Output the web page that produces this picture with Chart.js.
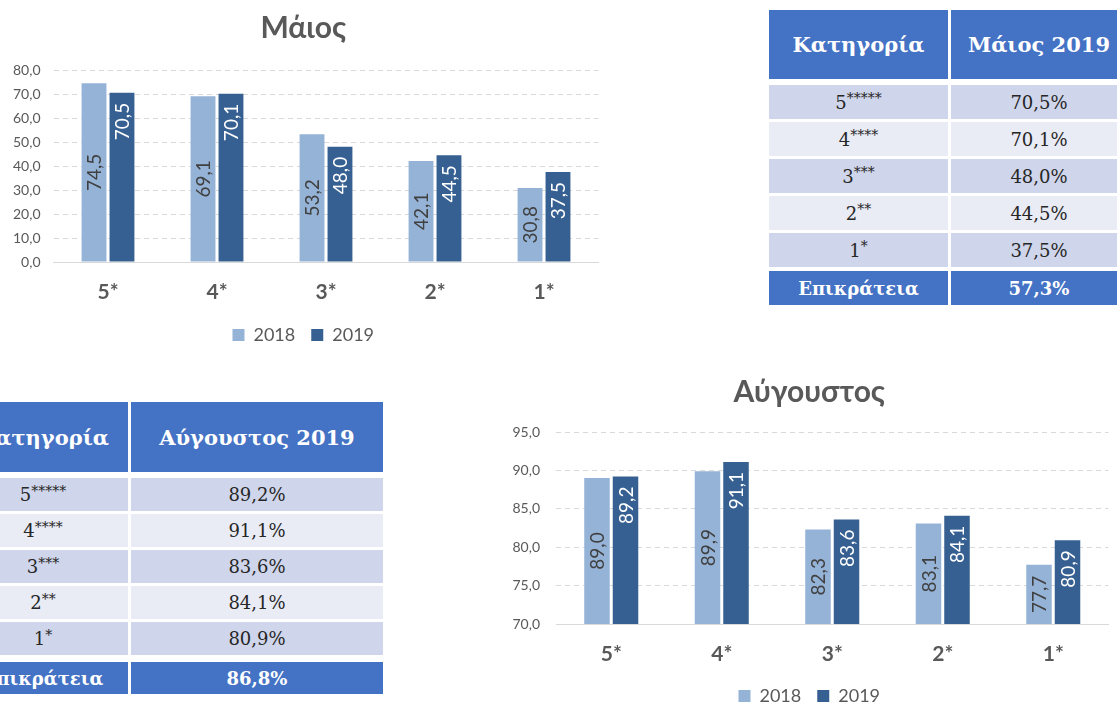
<!DOCTYPE html>
<html><head><meta charset="utf-8">
<script src="https://cdn.jsdelivr.net/npm/chart.js@4.4.0/dist/chart.umd.min.js"></script>
<style>
html,body{margin:0;padding:0;width:1117px;height:704px;overflow:hidden;background:#fff;}
canvas{position:absolute;}
#c1{left:0;top:0;}
#c2{left:490px;top:370px;}
.tbl{position:absolute;font-family:"DejaVu Serif",serif;color:#262626;}
.row{display:flex;gap:3px;}
.cell{display:flex;align-items:center;justify-content:center;box-sizing:border-box;}
.hd .cell{background:#4472C4;color:#fff;font-weight:bold;font-size:21px;}
.tot .cell{background:#4472C4;color:#fff;font-weight:bold;font-size:18px;}
.dr .cell{font-size:18px;}
.dr.odd .cell{background:#CFD5EA;}
.dr.even .cell{background:#E9EBF5;}
sup{font-size:14px;position:relative;top:-4px;vertical-align:top;line-height:1;}
#t1{left:769px;top:10px;}
#t2{left:-42px;top:402px;}
</style></head>
<body>
<canvas id="c1" width="605" height="354"></canvas>
<canvas id="c2" width="627" height="345"></canvas>
<div class="tbl" id="t1"></div>
<div class="tbl" id="t2"></div>
<script>
// ---- data ----
const categories = ['5*', '4*', '3*', '2*', '1*'];
const seriesYears = ['2018', '2019'];
const may2018 = [74.5, 69.1, 53.2, 42.1, 30.8];
const may2019 = [70.5, 70.1, 48.0, 44.5, 37.5];
const aug2018 = [89.0, 89.9, 82.3, 83.1, 77.7];
const aug2019 = [89.2, 91.1, 83.6, 84.1, 80.9];
const tableStars = [5, 4, 3, 2, 1];
const mayTableValues = [70.5, 70.1, 48.0, 44.5, 37.5];
const mayTotal = 57.3;
const augTableValues = [89.2, 91.1, 83.6, 84.1, 80.9];
const augTotal = 86.8;

const fmt = v => v.toFixed(1).replace('.', ',');
const LIGHT = '#95B3D7', DARK = '#376092', GREY = '#595959';

Chart.defaults.font.family = 'Lato';
Chart.defaults.color = GREY;

const barLabels = {
  id: 'barLabels',
  afterDatasetsDraw(chart) {
    const ctx = chart.ctx;
    const bottom = chart.chartArea.bottom;
    chart.data.datasets.forEach((ds, di) => {
      const meta = chart.getDatasetMeta(di);
      meta.data.forEach((bar, i) => {
        ctx.save();
        const base = Math.min(bar.base, bottom);
        const y = di === 0 ? (bar.y + base) / 2 : bar.y + 10;
        ctx.translate(bar.x, y);
        ctx.rotate(-Math.PI / 2);
        ctx.font = '19px Lato';
        ctx.fillStyle = di === 0 ? '#404040' : '#ffffff';
        ctx.textAlign = di === 0 ? 'center' : 'right';
        ctx.textBaseline = 'middle';
        ctx.fillText(fmt(ds.data[i]), 0, 1);
        ctx.restore();
      });
    });
  }
};

function makeChart(id, title, d18, d19, min, max, step, cfg) {
  return new Chart(document.getElementById(id), {
    type: 'bar',
    data: {
      labels: categories,
      datasets: [
        {label: seriesYears[0], data: d18, backgroundColor: LIGHT, categoryPercentage: cfg.cat, barPercentage: cfg.bar},
        {label: seriesYears[1], data: d19, backgroundColor: DARK, categoryPercentage: cfg.cat, barPercentage: cfg.bar}
      ]
    },
    options: {
      responsive: false,
      animation: false,
      devicePixelRatio: 1,
      layout: {padding: {left: cfg.padL, right: cfg.padR, top: 0, bottom: 0}},
      plugins: {
        title: {display: true, text: title, color: GREY, font: {size: 30, weight: 'bold'}, padding: {top: cfg.tTop, bottom: cfg.tBot}},
        legend: {position: 'bottom', labels: {boxWidth: 12, boxHeight: 12, padding: 16, color: GREY, font: {size: 18}}},
        tooltip: {enabled: false}
      },
      scales: {
        x: {
          grid: {display: false, drawTicks: false},
          border: {display: true, color: '#D9D9D9'},
          ticks: {font: {size: 21, weight: 'bold'}, color: GREY, padding: 18},
          afterFit: s => { s.height = cfg.xH; }
        },
        y: {
          min: min, max: max,
          grid: {color: '#D9D9D9', drawTicks: false},
          border: {display: false, dash: [5, 4]},
          ticks: {stepSize: step, callback: v => fmt(v), font: {size: 14}, color: GREY, padding: cfg.yPad},
          afterFit: s => { s.width = cfg.yW; }
        }
      }
    },
    plugins: [barLabels]
  });
}

makeChart('c1', 'Μάιος', may2018, may2019, 0, 80, 10,
  {cat: 0.513, bar: 0.89, padL: 8, padR: 6.5, tTop: 10, tBot: 24, xH: 48, yW: 45.5, yPad: 13});
makeChart('c2', 'Αύγουστος', aug2018, aug2019, 70, 95, 5,
  {cat: 0.516, bar: 0.895, padL: 20, padR: 8.5, tTop: 4, tBot: 22, xH: 47, yW: 46, yPad: 16});

// ---- tables ----
function buildTable(id, headTitle, values, total, g) {
  const el = document.getElementById(id);
  const cells = (a, b, h) =>
    `<div class="cell" style="width:${g.w1}px;height:${h}px">${a}</div><div class="cell" style="width:${g.w2}px;height:${h}px">${b}</div>`;
  let html = `<div class="row hd">${cells('Κατηγορία', headTitle, g.hH)}</div>`;
  values.forEach((v, i) => {
    const cat = tableStars[i] + '<sup>' + '*'.repeat(tableStars[i]) + '</sup>';
    html += `<div class="row dr ${i % 2 === 0 ? 'odd' : 'even'}" style="margin-top:${i === 0 ? g.g0 : 3}px">${cells(cat, fmt(v) + '%', g.rH)}</div>`;
  });
  html += `<div class="row tot" style="margin-top:${g.gT}px">${cells('Επικράτεια', fmt(total) + '%', g.tH)}</div>`;
  el.innerHTML = html;
}
buildTable('t1', 'Μάιος 2019', mayTableValues, mayTotal, {w1: 179, w2: 176, hH: 69, g0: 6, rH: 34, gT: 4, tH: 34});
buildTable('t2', 'Αύγουστος 2019', augTableValues, augTotal, {w1: 170, w2: 252, hH: 70, g0: 6, rH: 33, gT: 7, tH: 32});
</script>
</body></html>
